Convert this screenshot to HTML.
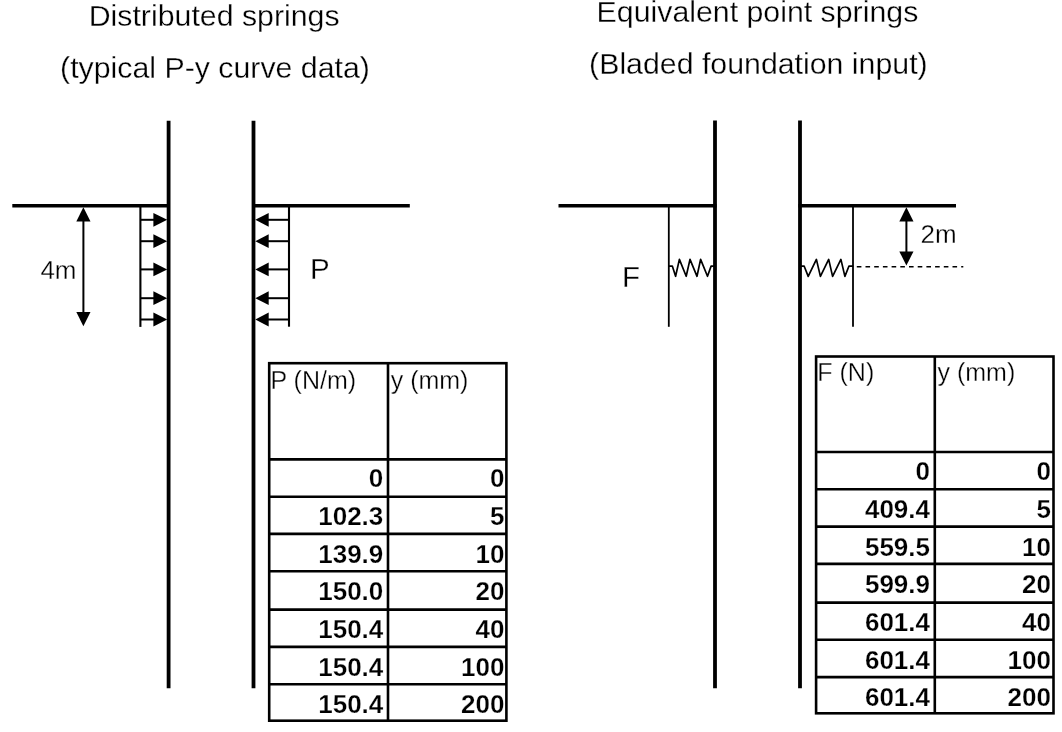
<!DOCTYPE html>
<html><head><meta charset="utf-8"><title>Distributed vs point springs</title>
<style>
html,body{margin:0;padding:0;background:#fff;width:1062px;height:732px;overflow:hidden}
svg{position:absolute;left:0;top:0;display:block;will-change:transform}
text{font-family:"Liberation Sans",sans-serif;fill:#000;stroke:#fff;stroke-width:0.3px}
.t{font-size:30.3px}
.l25{font-size:26px}
.l28{font-size:29.5px}
.h{font-size:25px}
.d{font-size:26px;font-weight:bold;text-anchor:end;stroke-width:0.25px}
</style></head>
<body>
<svg width="1062" height="732" viewBox="0 0 1062 732">
<rect x="0" y="0" width="1062" height="732" fill="#fff"/>
<text x="88.7" y="26.1" class="t">Distributed springs</text>
<text x="60.1" y="78" class="t">(typical P-y curve data)</text>
<text x="596.6" y="22.1" class="t">Equivalent point springs</text>
<text x="589.1" y="74.3" class="t">(Bladed foundation input)</text>
<line x1="168.6" y1="120.7" x2="168.6" y2="688.2" stroke="#000" stroke-width="3.8"/>
<line x1="253.5" y1="120.7" x2="253.5" y2="688.2" stroke="#000" stroke-width="3.8"/>
<line x1="12.3" y1="205.7" x2="170" y2="205.7" stroke="#000" stroke-width="3.6"/>
<line x1="252" y1="205.7" x2="409.8" y2="205.7" stroke="#000" stroke-width="3.6"/>
<line x1="140.4" y1="205.5" x2="140.4" y2="326.9" stroke="#000" stroke-width="2.1"/>
<line x1="289" y1="205.5" x2="289" y2="326.7" stroke="#000" stroke-width="2.1"/>
<line x1="140.4" y1="219.8" x2="154.4" y2="219.8" stroke="#000" stroke-width="2"/><polygon points="153.4,212.9 167.2,219.8 153.4,226.7" fill="#000"/>
<line x1="289" y1="219.8" x2="267.7" y2="219.8" stroke="#000" stroke-width="2"/><polygon points="268.7,212.9 255.3,219.8 268.7,226.7" fill="#000"/>
<line x1="140.4" y1="241.2" x2="154.4" y2="241.2" stroke="#000" stroke-width="2"/><polygon points="153.4,234.3 167.2,241.2 153.4,248.1" fill="#000"/>
<line x1="289" y1="241.2" x2="267.7" y2="241.2" stroke="#000" stroke-width="2"/><polygon points="268.7,234.3 255.3,241.2 268.7,248.1" fill="#000"/>
<line x1="140.4" y1="269.4" x2="154.4" y2="269.4" stroke="#000" stroke-width="2"/><polygon points="153.4,262.5 167.2,269.4 153.4,276.3" fill="#000"/>
<line x1="289" y1="269.4" x2="267.7" y2="269.4" stroke="#000" stroke-width="2"/><polygon points="268.7,262.5 255.3,269.4 268.7,276.3" fill="#000"/>
<line x1="140.4" y1="298.2" x2="154.4" y2="298.2" stroke="#000" stroke-width="2"/><polygon points="153.4,291.3 167.2,298.2 153.4,305.1" fill="#000"/>
<line x1="289" y1="298.2" x2="267.7" y2="298.2" stroke="#000" stroke-width="2"/><polygon points="268.7,291.3 255.3,298.2 268.7,305.1" fill="#000"/>
<line x1="140.4" y1="319.5" x2="154.4" y2="319.5" stroke="#000" stroke-width="2"/><polygon points="153.4,312.6 167.2,319.5 153.4,326.4" fill="#000"/>
<line x1="289" y1="319.5" x2="267.7" y2="319.5" stroke="#000" stroke-width="2"/><polygon points="268.7,312.6 255.3,319.5 268.7,326.4" fill="#000"/>
<line x1="83.4" y1="220.5" x2="83.4" y2="313.0" stroke="#000" stroke-width="2"/><polygon points="76.3,221.5 83.4,207.3 90.5,221.5" fill="#000"/><polygon points="76.3,312.0 83.4,326.2 90.5,312.0" fill="#000"/>
<text x="40.4" y="279" class="l25">4m</text>
<text x="310" y="278.5" class="l28">P</text>
<line x1="715" y1="120.5" x2="715" y2="688.2" stroke="#000" stroke-width="3.8"/>
<line x1="800" y1="120.5" x2="800" y2="688.2" stroke="#000" stroke-width="3.8"/>
<line x1="558.5" y1="205.7" x2="716.5" y2="205.7" stroke="#000" stroke-width="3.6"/>
<line x1="798.5" y1="205.7" x2="956" y2="205.7" stroke="#000" stroke-width="3.6"/>
<line x1="668.8" y1="205.5" x2="668.8" y2="326.8" stroke="#000" stroke-width="1.8"/>
<line x1="853" y1="205.5" x2="853" y2="326.8" stroke="#000" stroke-width="1.8"/>
<polyline points="668.9,266.1 672.3,266.1 675.6,276.3 679.4,259.4 686.2,276.3 690,259.4 697,276.3 700.6,259.4 707.5,276.3 711.1,266.1 713.7,266.1" fill="none" stroke="#000" stroke-width="1.7" stroke-linejoin="round" stroke-linecap="round"/>
<polyline points="801.7,266.2 804.2,266.2 808.2,276.4 816.4,259.4 820.4,276.4 828.7,259.4 832.6,276.4 840.9,259.4 844.9,276.4 848.9,266.2 852.5,266.2" fill="none" stroke="#000" stroke-width="1.7" stroke-linejoin="round" stroke-linecap="round"/>
<line x1="856.8" y1="266.7" x2="963.3" y2="266.7" stroke="#000" stroke-width="1.5" stroke-dasharray="4.6 4.1"/>
<line x1="906.4" y1="220.4" x2="906.4" y2="252.4" stroke="#000" stroke-width="2"/><polygon points="899.3,221.4 906.4,207.2 913.5,221.4" fill="#000"/><polygon points="899.3,251.4 906.4,265.6 913.5,251.4" fill="#000"/>
<text x="920.5" y="242.8" class="l25">2m</text>
<text x="622.1" y="286.7" class="l28">F</text>
<rect x="269.2" y="363.2" width="237.2" height="357.50000000000006" fill="none" stroke="#000" stroke-width="2.6"/>
<line x1="388.0" y1="363.2" x2="388.0" y2="720.7" stroke="#000" stroke-width="2.6"/>
<line x1="269.2" y1="459.4" x2="506.4" y2="459.4" stroke="#000" stroke-width="2.6"/>
<line x1="269.2" y1="496.7" x2="506.4" y2="496.7" stroke="#000" stroke-width="2.6"/>
<line x1="269.2" y1="533.9" x2="506.4" y2="533.9" stroke="#000" stroke-width="2.6"/>
<line x1="269.2" y1="571.2" x2="506.4" y2="571.2" stroke="#000" stroke-width="2.6"/>
<line x1="269.2" y1="609.6" x2="506.4" y2="609.6" stroke="#000" stroke-width="2.6"/>
<line x1="269.2" y1="646.9" x2="506.4" y2="646.9" stroke="#000" stroke-width="2.6"/>
<line x1="269.2" y1="684.2" x2="506.4" y2="684.2" stroke="#000" stroke-width="2.6"/>
<text x="270.4" y="388.6" class="h">P (N/m)</text>
<text x="390.7" y="388.6" class="h">y (mm)</text>
<text x="383.3" y="487.3" class="d">0</text>
<text x="504.5" y="487.3" class="d">0</text>
<text x="383.3" y="525.0" class="d">102.3</text>
<text x="504.5" y="525.0" class="d">5</text>
<text x="383.3" y="562.6" class="d">139.9</text>
<text x="504.5" y="562.6" class="d">10</text>
<text x="383.3" y="600.3" class="d">150.0</text>
<text x="504.5" y="600.3" class="d">20</text>
<text x="383.3" y="638.0" class="d">150.4</text>
<text x="504.5" y="638.0" class="d">40</text>
<text x="383.3" y="675.7" class="d">150.4</text>
<text x="504.5" y="675.7" class="d">100</text>
<text x="383.3" y="713.3" class="d">150.4</text>
<text x="504.5" y="713.3" class="d">200</text>
<rect x="816.1" y="356.5" width="237.39999999999998" height="356.79999999999995" fill="none" stroke="#000" stroke-width="2.6"/>
<line x1="934.8" y1="356.5" x2="934.8" y2="713.3" stroke="#000" stroke-width="2.6"/>
<line x1="816.1" y1="452.0" x2="1053.5" y2="452.0" stroke="#000" stroke-width="2.6"/>
<line x1="816.1" y1="489.3" x2="1053.5" y2="489.3" stroke="#000" stroke-width="2.6"/>
<line x1="816.1" y1="526.6" x2="1053.5" y2="526.6" stroke="#000" stroke-width="2.6"/>
<line x1="816.1" y1="563.9" x2="1053.5" y2="563.9" stroke="#000" stroke-width="2.6"/>
<line x1="816.1" y1="602.6" x2="1053.5" y2="602.6" stroke="#000" stroke-width="2.6"/>
<line x1="816.1" y1="639.8" x2="1053.5" y2="639.8" stroke="#000" stroke-width="2.6"/>
<line x1="816.1" y1="677.1" x2="1053.5" y2="677.1" stroke="#000" stroke-width="2.6"/>
<text x="817.3000000000001" y="380.9" class="h">F (N)</text>
<text x="937.5" y="380.9" class="h">y (mm)</text>
<text x="930.0" y="480.4" class="d">0</text>
<text x="1051.0" y="480.4" class="d">0</text>
<text x="930.0" y="518.1" class="d">409.4</text>
<text x="1051.0" y="518.1" class="d">5</text>
<text x="930.0" y="555.7" class="d">559.5</text>
<text x="1051.0" y="555.7" class="d">10</text>
<text x="930.0" y="593.4" class="d">599.9</text>
<text x="1051.0" y="593.4" class="d">20</text>
<text x="930.0" y="631.1" class="d">601.4</text>
<text x="1051.0" y="631.1" class="d">40</text>
<text x="930.0" y="668.8" class="d">601.4</text>
<text x="1051.0" y="668.8" class="d">100</text>
<text x="930.0" y="706.4" class="d">601.4</text>
<text x="1051.0" y="706.4" class="d">200</text>
</svg>
</body></html>
